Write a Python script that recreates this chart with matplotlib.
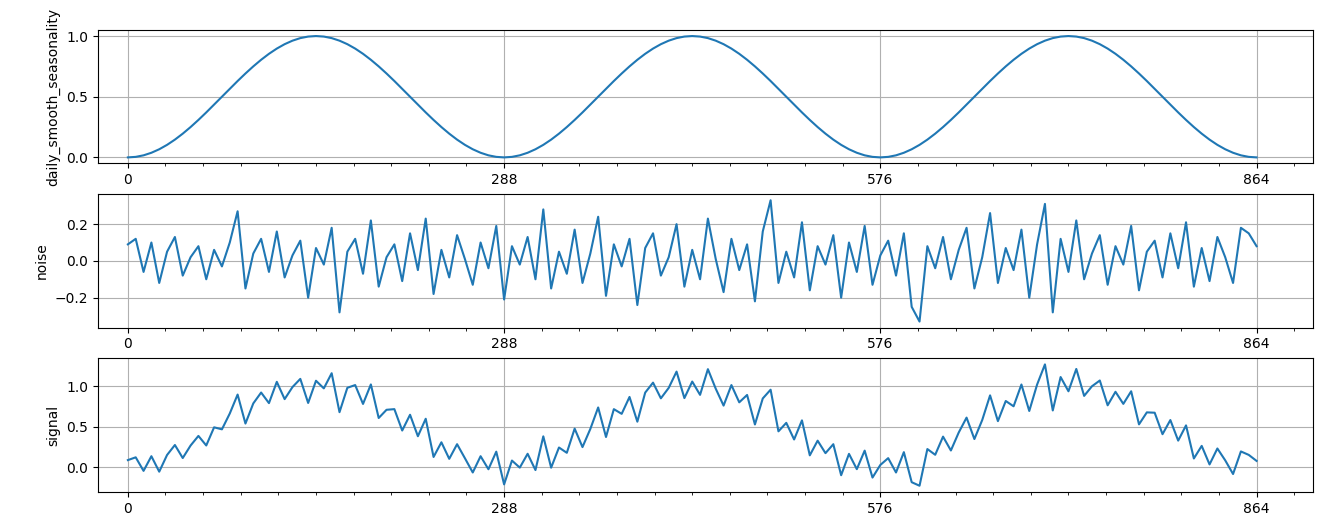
import numpy as np
import matplotlib.pyplot as plt
from matplotlib.ticker import MultipleLocator

step = 6
# half a period of the daily seasonality, sampled every 6 steps
season_half = [0.0, 0.0043, 0.0170, 0.0381, 0.0670, 0.1033, 0.1464, 0.1956, 0.25,
               0.3087, 0.3706, 0.4347, 0.5, 0.5653, 0.6294, 0.6913, 0.75, 0.8044,
               0.8536, 0.8967, 0.9330, 0.9619, 0.9830, 0.9957, 1.0]
noise = [0.09, 0.12, -0.06, 0.10, -0.12, 0.05, 0.13, -0.08, 0.02, 0.08, -0.10, 0.06,
         -0.03, 0.10, 0.27, -0.15, 0.04, 0.12, -0.06, 0.16, -0.09, 0.03, 0.11, -0.20,
         0.07, -0.02, 0.18, -0.28, 0.05, 0.12, -0.07, 0.22, -0.14, 0.02, 0.09, -0.11,
         0.15, -0.05, 0.23, -0.18, 0.06, -0.09, 0.14, 0.01, -0.13, 0.10, -0.04, 0.19,
         -0.21, 0.08, -0.02, 0.13, -0.10, 0.28, -0.15, 0.05, -0.07, 0.17, -0.12, 0.04,
         0.24, -0.19, 0.09, -0.03, 0.12, -0.24, 0.07, 0.15, -0.08, 0.02, 0.20, -0.14,
         0.06, -0.10, 0.23, 0.01, -0.17, 0.12, -0.05, 0.09, -0.22, 0.16, 0.33, -0.12,
         0.05, -0.09, 0.21, -0.16, 0.08, -0.02, 0.14, -0.20, 0.10, -0.06, 0.19, -0.13,
         0.03, 0.11, -0.08, 0.15, -0.25, -0.33, 0.08, -0.04, 0.13, -0.10, 0.06, 0.18,
         -0.15, 0.02, 0.26, -0.12, 0.07, -0.05, 0.17, -0.20, 0.09, 0.31, -0.28, 0.12,
         -0.06, 0.22, -0.10, 0.04, 0.14, -0.13, 0.08, -0.02, 0.19, -0.16, 0.05, 0.11,
         -0.09, 0.15, -0.04, 0.21, -0.14, 0.07, -0.11, 0.13, 0.02, -0.12, 0.18, 0.15,
         0.08]

period = season_half + season_half[-2::-1]
season = np.array(period[:-1] * 3 + [0.0])
x = np.arange(len(season)) * step
noise = np.array(noise)
signal = season + noise

fig, axes = plt.subplots(3, 1, figsize=(13.22, 5.26), dpi=100)
fig.subplots_adjust(left=0.074, right=0.993, top=0.943, bottom=0.065, hspace=0.23)
for ax, y, name in zip(axes, [season, noise, signal],
                       ["daily_smooth_seasonality", "noise", "signal"]):
    ax.plot(x, y, color="#1f77b4")
    ax.set_ylabel(name)
    ax.set_xlim(-23, 907)
    ax.set_xticks([0, 288, 576, 864])
    ax.xaxis.set_minor_locator(MultipleLocator(28.8))
    ax.grid(True, which="major")
axes[0].set_yticks([0, 0.5, 1.0])
axes[2].set_yticks([0, 0.5, 1.0])
fig.savefig("out.png")
